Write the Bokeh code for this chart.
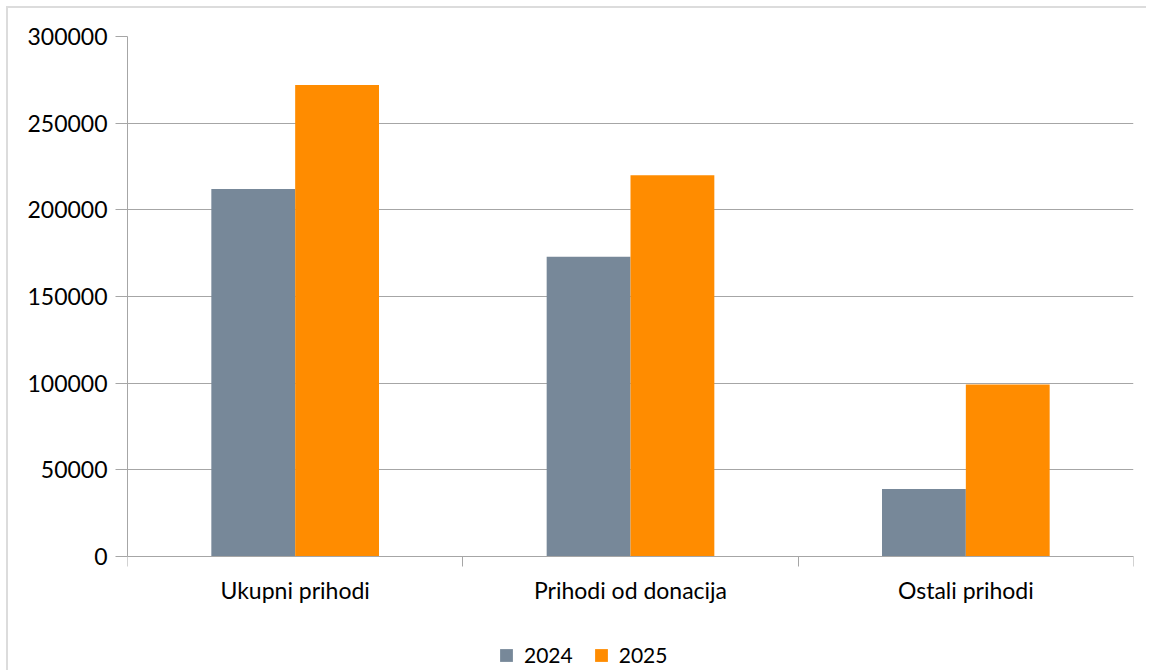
from bokeh.plotting import figure
from bokeh.models import (Range1d, FixedTicker, LinearAxis, Legend, LegendItem,
                          ColumnDataSource, BasicTickFormatter, Grid)
from bokeh.embed import file_html
from bokeh.resources import INLINE

categories = ["Ukupni prihodi", "Prihodi od donacija", "Ostali prihodi"]
series_names = ["2024", "2025"]
values_2024 = [212000, 173000, 39000]
values_2025 = [272000, 220000, 99300]
y_ticks = [0, 50000, 100000, 150000, 200000, 250000, 300000]
y_max = 300000

colors = ["#778899", "#ff8c00"]
FONT = "Lato"
GRID = "#a6a6a6"

# layout (pixels)
plot_h = 520          # height of the value area (0 .. y_max)
below_h = 114         # space below the zero line for labels and legend
n = len(categories)
centers = [i + 0.5 for i in range(n)]
bar_w = 0.25
y_start = -y_max * below_h / plot_h

p = figure(frame_width=1006, frame_height=plot_h + below_h,
           output_backend="svg", toolbar_location=None,
           x_range=Range1d(0, n), y_range=Range1d(y_start, y_max),
           x_axis_type=None, y_axis_type=None,
           min_border_left=119, min_border_right=13, min_border_top=28,
           min_border_bottom=0,
           styles={"margin-left": "6px", "margin-top": "6px",
                   "border-left": "2px solid #dcdcdc", "border-top": "2px solid #dcdcdc"})
p.outline_line_color = None
p.background_fill_color = "white"
p.border_fill_color = "white"

# y axis
yaxis = LinearAxis(ticker=FixedTicker(ticks=y_ticks),
                   formatter=BasicTickFormatter(use_scientific=False),
                   bounds=(0, y_max))
yaxis.axis_line_color = GRID
yaxis.major_tick_line_color = GRID
yaxis.major_tick_out = 12
yaxis.major_tick_in = 0
yaxis.minor_tick_line_color = None
yaxis.major_label_standoff = 8
yaxis.major_label_text_font = FONT
yaxis.major_label_text_font_size = "23px"
yaxis.major_label_text_color = "black"
p.add_layout(yaxis, "left")

# x axis at the zero line: labels at centers, ticks at category boundaries
xaxis = LinearAxis(ticker=FixedTicker(ticks=centers, minor_ticks=list(range(n + 1))),
                   fixed_location=0)
xaxis.major_label_overrides = {c: cat for c, cat in zip(centers, categories)}
xaxis.axis_line_color = GRID
xaxis.major_tick_line_color = None
xaxis.major_tick_out = 0
xaxis.major_tick_in = 0
xaxis.minor_tick_line_color = GRID
xaxis.minor_tick_out = 10
xaxis.minor_tick_in = 0
xaxis.major_label_standoff = 9
xaxis.major_label_text_font = FONT
xaxis.major_label_text_font_size = "23px"
xaxis.major_label_text_color = "black"
p.add_layout(xaxis, "below")

p.add_layout(Grid(dimension=1, ticker=FixedTicker(ticks=y_ticks),
                  grid_line_color=GRID, grid_line_width=1))

src = ColumnDataSource(dict(
    x24=[c - bar_w / 2 for c in centers], x25=[c + bar_w / 2 for c in centers],
    v24=values_2024, v25=values_2025))
r1 = p.vbar(x="x24", top="v24", bottom=0, width=bar_w, source=src,
            fill_color=colors[0], line_color=None)
r2 = p.vbar(x="x25", top="v25", bottom=0, width=bar_w, source=src,
            fill_color=colors[1], line_color=None)

legend = Legend(items=[LegendItem(label=series_names[0], renderers=[r1]),
                       LegendItem(label=series_names[1], renderers=[r2])],
                orientation="horizontal", location=(371, 3),
                border_line_color=None, background_fill_alpha=0,
                glyph_width=16, glyph_height=16, label_standoff=10, spacing=20,
                padding=0, margin=0,
                label_text_font=FONT, label_text_font_size="21px",
                label_text_color="black")
p.add_layout(legend, "center")

open("out.html", "w").write(file_html(p, INLINE))
